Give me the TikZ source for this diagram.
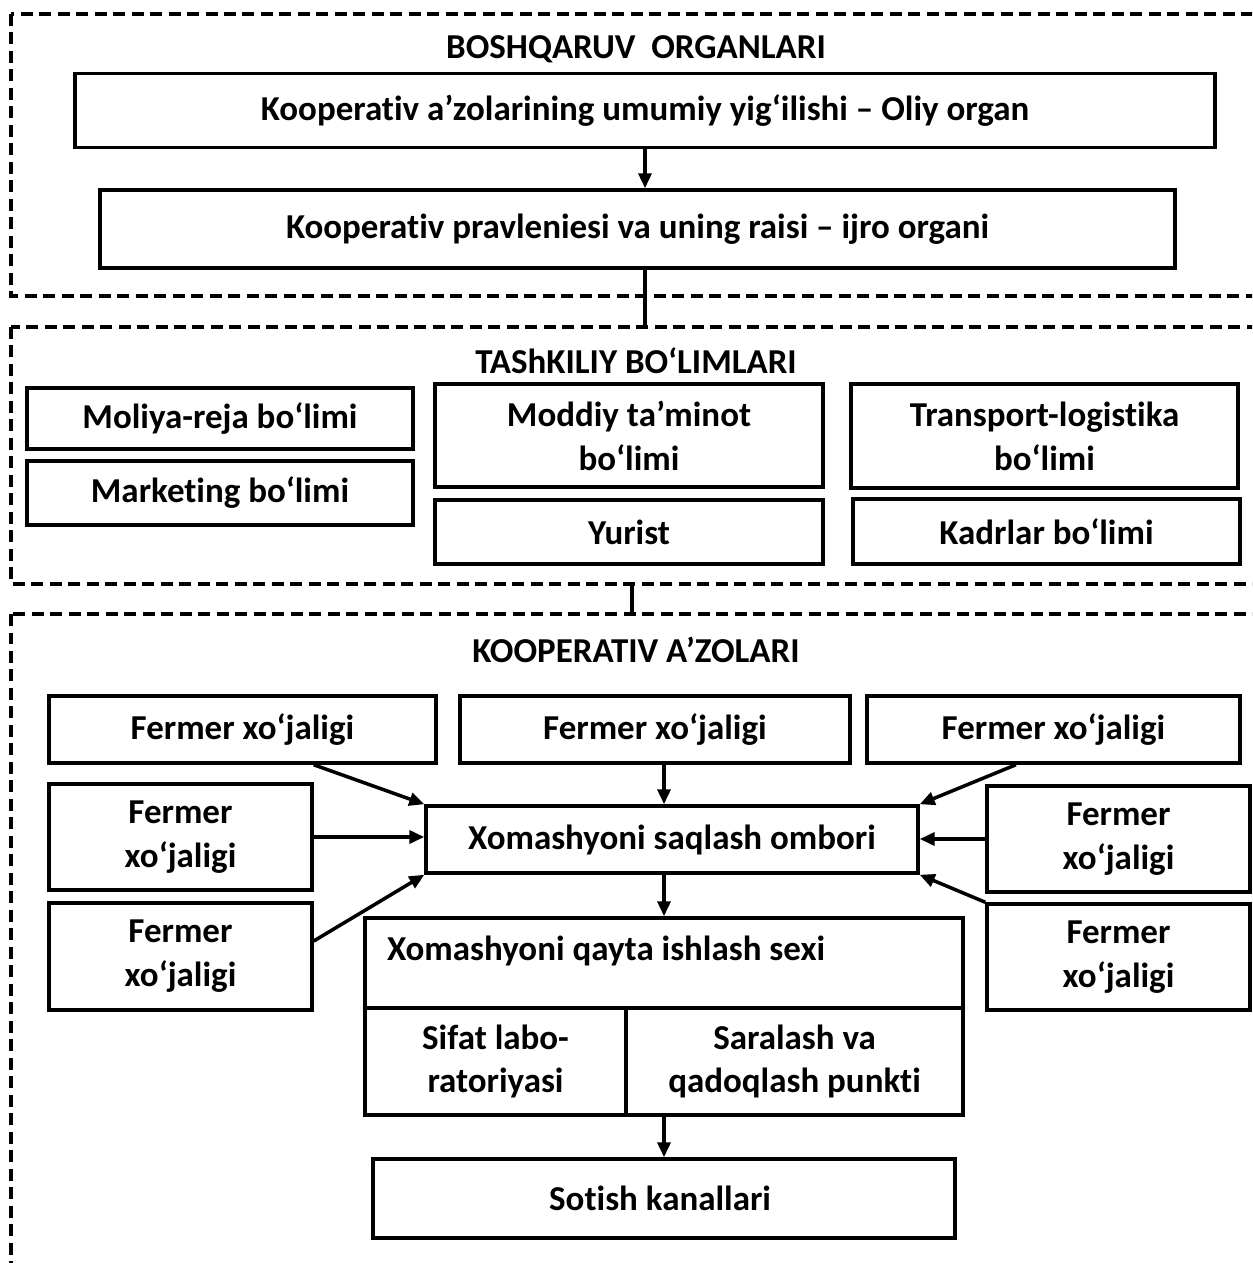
\documentclass[tikz,border=0pt]{standalone}
\usepackage{fontspec}
\setmainfont{Carlito}[Ligatures=NoCommon]
\usetikzlibrary{arrows.meta, calc}

\begin{document}
\begin{tikzpicture}
		[
			x=0.02cm, y=-0.02cm,
			font=\fontsize{19.9}{25}\selectfont\bfseries,
			box/.style={draw, line width=2pt, inner sep=0pt, align=center},
			group/.style={draw, line width=2pt, dash pattern=on 0.24cm off 0.13cm},
			title/.style={inner sep=0pt},
			link/.style={line width=2pt},
			arr/.style={line width=2pt, -{Triangle[length=0.3cm, width=0.26cm]}},
		]
		\clip (0,0) rectangle (1252,1263);

		% Groups
		\draw[group] (11,14) rectangle (1275,296);
		\draw[group] (11,327) rectangle (1275,584);
		\draw[group] (11,614) rectangle (1275,1290);

		\coordinate (top2) at (645,327);
		\coordinate (bot2) at (632,584);
		\coordinate (top3) at (632,614);

		% Titles
		\foreach \name/\x/\y/\txt in
		{
			boshqaruv/636/49/{BOSHQARUV\hspace{0.45em}ORGANLARI},
			tashkiliy/636/361/TAShKILIY BO‘LIMLARI,
			azolari/636/650/KOOPERATIV A’ZOLARI
		}
			\node[title] (\name) at (\x,\y) {\txt};

		% Nodes
		\foreach \name/\x/\y/\w/\h/\txt in
		{
			oliy/645/110.5/1140/74/Kooperativ a’zolarining umumiy yig‘ilishi – Oliy organ,
			ijro/637.5/229/1075/78/Kooperativ pravleniesi va uning raisi – ijro organi,
			moliya/220/418.5/386/61/Moliya-reja bo‘limi,
			marketing/220/493/386/64/Marketing bo‘limi,
			moddiy/629/435.5/388/103/{Moddiy ta’minot\\bo‘limi},
			yurist/629/532/388/64/Yurist,
			transport/1044.5/436/387/104/{Transport-logistika\\bo‘limi},
			kadrlar/1046.5/531.5/387/65/Kadrlar bo‘limi,
			f1/242.5/729.5/387/67/Fermer xo‘jaligi,
			f2/655/729.5/390/67/Fermer xo‘jaligi,
			f3/1053.5/729.5/373/67/Fermer xo‘jaligi,
			f4/180.5/837/263/106/{Fermer\\xo‘jaligi},
			f5/180.5/956.5/263/107/{Fermer\\xo‘jaligi},
			f6/1118.5/839/263/106/{Fermer\\xo‘jaligi},
			f7/1118.5/957/263/106/{Fermer\\xo‘jaligi},
			ombor/672/839.5/492/67/Xomashyoni saqlash ombori,
			sifat/495.5/1061.5/261/107/{Sifat labo-\\ratoriyasi},
			saralash/794.5/1061.5/337/107/{Saralash va\\qadoqlash punkti},
			sotish/664/1198.5/582/79/Sotish kanallari
		}
			\node[box, minimum width=\w*0.2mm, minimum height=\h*0.2mm] (\name) at (\x,\y) {\txt};

		\node[box, minimum width=598*0.2mm, minimum height=90*0.2mm, text width=554*0.2mm,
			align=flush left, text depth=0.6cm] (sexi) at (664,963) {Xomashyoni qayta ishlash sexi};

		% Edges
		\draw[arr] (oliy.south) -- (oliy.south |- ijro.north);
		\draw[link] (ijro.south -| top2) -- (top2);
		\draw[link] (bot2) -- (top3);
		\draw[arr] (f4.east |- f1.south) -- (ombor.north west);
		\draw[arr] (sexi.north |- f2.south) -- (sexi.north |- ombor.north);
		\draw[arr] ($(f3.south west)!0.4!(f3.south east)$) -- (ombor.north east);
		\draw[arr] (f4.east) -- (f4.east -| ombor.west);
		\draw[arr] ($(f5.north east)!0.36!(f5.south east)$) -- (ombor.south west);
		\draw[arr] (f6.west) -- (f6.west -| ombor.east);
		\draw[arr] (f7.north west) -- (ombor.south east);
		\draw[arr] (sexi.north |- ombor.south) -- (sexi.north);
		\draw[arr] (sotish.north |- saralash.south) -- (sotish.north);

		\end{tikzpicture}
\end{document}
